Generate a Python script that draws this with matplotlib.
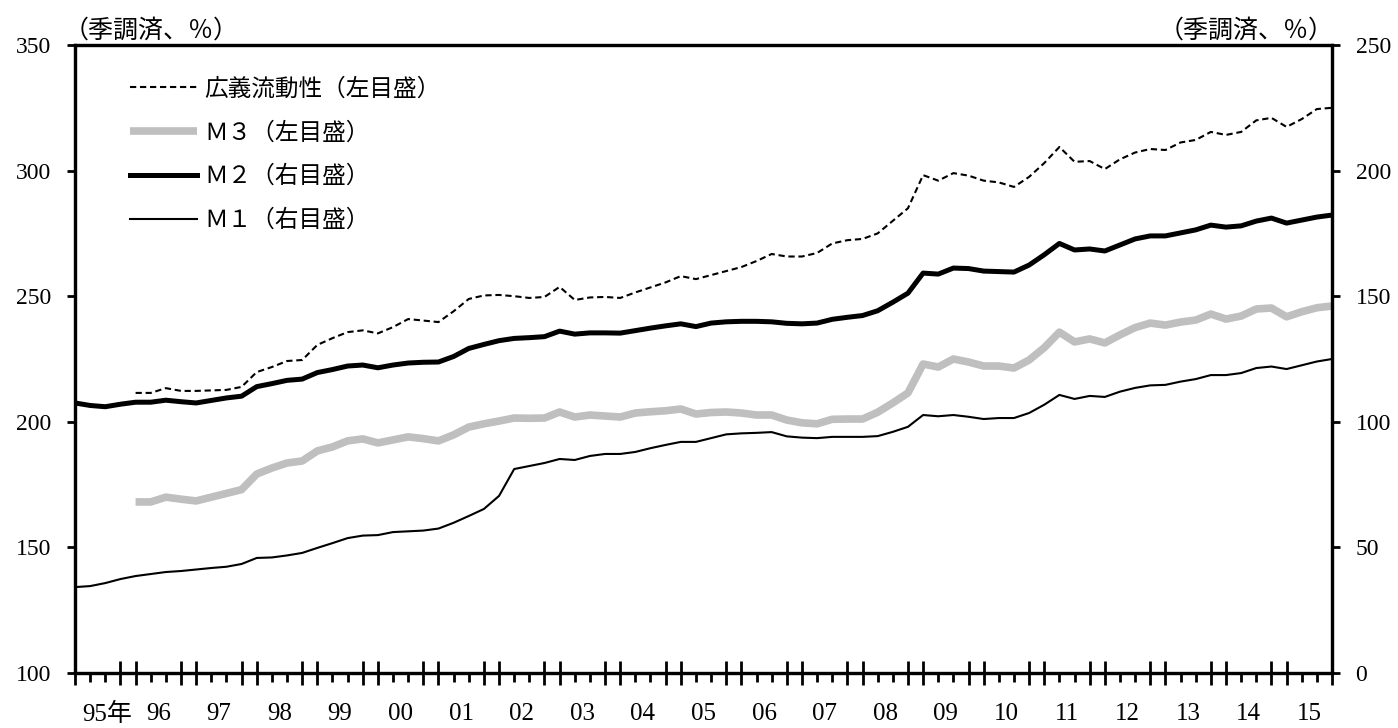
import numpy as np
import matplotlib
matplotlib.use("Agg")
import matplotlib.pyplot as plt
import matplotlib.transforms as mtransforms

plt.rcParams["font.family"] = ["Liberation Serif", "Noto Sans CJK JP"]

# ── データ（四半期, 1995Q1〜2015Q4）─────────────────────────────
YEARS = ["95年", "96", "97", "98", "99", "00", "01", "02", "03", "04", "05",
         "06", "07", "08", "09", "10", "11", "12", "13", "14", "15"]
N_Q = 4 * len(YEARS)

# 広義流動性（左目盛）1996Q1〜
broad = [211.5, 211.5, 213.4, 212.3,
         212.3, 212.5, 212.7, 213.9,
         219.8, 221.8, 224.2, 224.6,
         230.6, 233.3, 235.7, 236.4,
         235.2, 237.7, 240.9, 240.3,
         239.7, 244.0, 248.9, 250.3,
         250.5, 250.0, 249.3, 249.7,
         253.7, 248.5, 249.5, 249.7,
         249.3, 251.5, 253.5, 255.5,
         258.0, 256.8, 258.4, 260.0,
         261.6, 264.0, 266.8, 265.8,
         265.8, 267.2, 271.0, 272.3,
         272.8, 275.0, 280.0, 285.0,
         298.2, 296.0, 299.0, 298.0,
         296.0, 295.3, 293.5, 297.5,
         303.0, 309.4, 303.5, 303.8,
         300.6, 304.5, 307.2, 308.6,
         308.2, 311.2, 312.2, 315.4,
         314.2, 315.4, 320.0, 321.0,
         317.4, 320.5, 324.5, 325.0]

# M3（左目盛）1996Q1〜
m3 = [168.1, 168.1, 170.0, 169.2,
      168.5, 170.0, 171.5, 173.0,
      179.2, 181.6, 183.6, 184.4,
      188.4, 190.0, 192.4, 193.2,
      191.6, 192.8, 194.0, 193.3,
      192.4, 194.8, 197.9, 199.2,
      200.3, 201.5, 201.4, 201.5,
      203.9, 201.9, 202.7, 202.3,
      201.9, 203.5, 204.0, 204.4,
      205.1, 203.1, 203.7, 203.9,
      203.5, 202.7, 202.7, 200.7,
      199.6, 199.2, 201.0, 201.1,
      201.1, 203.8, 207.5, 211.5,
      223.0, 221.8, 225.0, 223.8,
      222.2, 222.2, 221.4, 224.6,
      229.5, 235.7, 231.8, 233.0,
      231.4, 234.6, 237.5, 239.3,
      238.5, 239.7, 240.5, 242.9,
      240.9, 242.1, 244.9, 245.3,
      241.8, 243.8, 245.4, 246.1]

# M2（右目盛）1995Q1〜
m2 = [107.5, 106.5, 106.0, 107.0,
      107.8, 107.8, 108.6, 108.0,
      107.5, 108.5, 109.5, 110.2,
      114.0, 115.2, 116.5, 117.0,
      119.6, 120.8, 122.2, 122.6,
      121.5, 122.6, 123.4, 123.7,
      123.8, 126.0, 129.2, 130.8,
      132.3, 133.2, 133.5, 133.9,
      136.1, 134.9, 135.4, 135.4,
      135.3, 136.3, 137.3, 138.2,
      139.0, 137.9, 139.3, 139.8,
      140.0, 140.0, 139.8, 139.2,
      139.0, 139.3, 140.8, 141.6,
      142.3, 144.2, 147.6, 151.2,
      159.2, 158.8, 161.2, 161.0,
      160.0, 159.8, 159.6, 162.4,
      166.5, 171.0, 168.4, 168.8,
      168.0, 170.4, 172.8, 174.0,
      174.0, 175.2, 176.4, 178.3,
      177.5, 178.0, 179.9, 181.1,
      179.1, 180.3, 181.5, 182.3]

# M1（右目盛）1995Q1〜
m1 = [34.2, 34.6, 35.8, 37.4,
      38.6, 39.4, 40.2, 40.6,
      41.2, 41.8, 42.3, 43.4,
      45.8, 46.0, 46.8, 47.8,
      49.8, 51.7, 53.7, 54.7,
      54.9, 56.1, 56.4, 56.7,
      57.5, 59.8, 62.5, 65.3,
      70.5, 81.2, 82.4, 83.6,
      85.2, 84.8, 86.4, 87.2,
      87.2, 88.0, 89.5, 90.8,
      92.0, 92.0, 93.5, 95.0,
      95.4, 95.6, 95.9, 94.2,
      93.7, 93.5, 94.0, 94.0,
      94.0, 94.3, 96.0, 98.0,
      102.7, 102.2, 102.7, 102.0,
      101.1, 101.5, 101.5, 103.5,
      106.8, 110.7, 109.1, 110.3,
      109.9, 112.0, 113.5, 114.5,
      114.7, 116.0, 117.0, 118.6,
      118.6, 119.4, 121.4, 122.0,
      121.0, 122.5, 124.0, 125.0]

LABELS = ["広義流動性（左目盛）", "Ｍ３（左目盛）", "Ｍ２（右目盛）", "Ｍ１（右目盛）"]

x_all = np.arange(N_Q)
x_left = x_all[N_Q - len(broad):]

GRAY = "#BFBFBF"
JP = ["Noto Sans CJK JP"]

fig = plt.figure(figsize=(13.98, 7.28), dpi=100)
fig.patch.set_facecolor("white")
ax = fig.add_axes([75 / 1398, 1 - 673 / 728, 1257 / 1398, 628 / 728])
ax2 = ax.twinx()

l_broad, = ax.plot(x_left, broad, color="black", lw=1.5, dashes=(3, 1.8))
l_m3, = ax.plot(x_left, m3, color=GRAY, lw=5.5, solid_capstyle="butt")
l_m2, = ax2.plot(x_all, m2, color="black", lw=3.6)
l_m1, = ax2.plot(x_all, m1, color="black", lw=1.5)

ax.set_xlim(0, N_Q - 1)
ax.set_ylim(100, 350)
ax2.set_ylim(0, 250)
ax.set_yticks(np.arange(100, 351, 50))
ax2.set_yticks(np.arange(0, 251, 50))

# 目盛：各年の第1・第4四半期を長く
major = [i for i in x_all if i % 4 in (0, 3)]
ax.set_xticks(major)
ax.set_xticks(x_all, minor=True)
ax.tick_params(axis="x", which="major", direction="inout", length=17, width=2,
               labelbottom=False)
ax.tick_params(axis="x", which="minor", direction="out", length=6.5, width=2)
ax.tick_params(axis="y", direction="out", length=6, width=2, pad=11, labelsize=17)
ax2.tick_params(axis="y", direction="out", length=6, width=2, pad=11, labelsize=17)

for a in (ax, ax2):
    for s in a.spines.values():
        s.set_linewidth(2.3)
        s.set_color("black")

# 年ラベル
trans = mtransforms.blended_transform_factory(ax.transData, ax.transAxes)
for k, lab in enumerate(YEARS):
    xc = 4 * k + 1.5
    if k == 0:
        ax.text(xc - 1.0, -0.066, lab, transform=trans, ha="left", va="center",
                fontsize=18)
    else:
        ax.text(xc, -0.066, lab, transform=trans, ha="center", va="center",
                fontsize=18)

# 単位
ax.text(-11 / 1257, 1.002, "（季調済、％）", transform=ax.transAxes,
        ha="left", va="bottom", fontsize=18, family=JP)
ax.text(1.0 + 2 / 1257, 1.002, "（季調済、％）", transform=ax.transAxes,
        ha="right", va="bottom", fontsize=18, family=JP)

ax2.legend([l_broad, l_m3, l_m2, l_m1], LABELS, loc="upper left",
           bbox_to_anchor=(0.0438, 0.948), frameon=False, borderpad=0,
           borderaxespad=0, handlelength=2.85, handletextpad=0.28,
           labelspacing=0.88, prop={"family": JP, "size": 17})

fig.savefig("out.png", dpi=100, facecolor="white")
